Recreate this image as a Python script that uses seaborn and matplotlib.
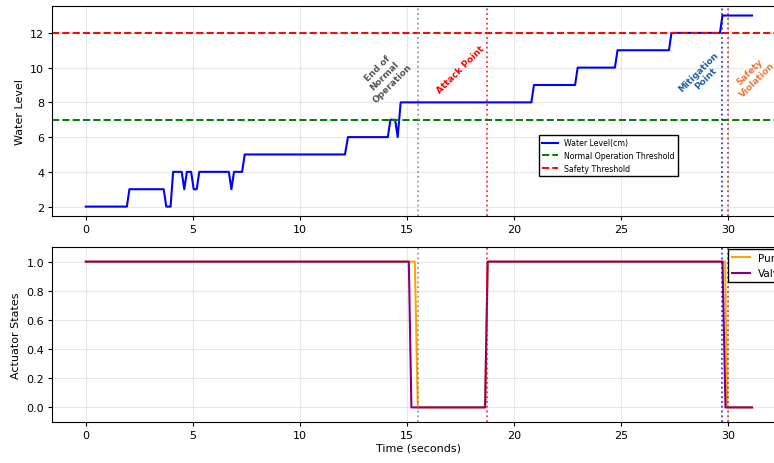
import matplotlib
matplotlib.use("Agg")
import matplotlib.pyplot as plt
import seaborn as sns
import pandas as pd

# water level vertices
water_t = [0, 1.92, 2.04, 3.64, 3.76, 3.96, 4.08, 4.48, 4.6, 4.72, 4.92, 5.04, 5.18, 5.3,
           6.68, 6.8, 6.92, 7.3, 7.42, 12.1, 12.24, 14.1, 14.22, 14.44, 14.56, 14.7,
           20.8, 20.92, 22.84, 22.96, 24.7, 24.82, 27.22, 27.34, 29.6, 29.72, 31.1]
water_lvl = [2, 2, 3, 3, 2, 2, 4, 4, 3, 4, 4, 3, 3, 4,
             4, 3, 4, 4, 5, 5, 6, 6, 7, 7, 6, 8,
             8, 9, 9, 10, 10, 11, 11, 12, 12, 13, 13]

pump_t = [0, 15.36, 15.5, 18.64, 18.76, 29.84, 29.94, 31.1]
pump_state = [1, 1, 0, 0, 1, 1, 0, 0]
valve_t = [0, 15.08, 15.2, 18.64, 18.76, 29.72, 29.86, 31.1]
valve_state = [1, 1, 0, 0, 1, 1, 0, 0]

normal_thr = 7
safety_thr = 12

event_t = [15.5, 18.75, 29.72, 30.0]
event_col = ["gray", "red", "blue", "firebrick"]
event_lbl = ["End of\nNormal\nOperation", "Attack Point", "Mitigation\nPoint", "Safety\nViolation"]
event_txt_col = ["#555555", "red", "#1f5f9f", "#ee7733"]
event_txt_xy = [(13.95, 9.55), (17.51, 9.92), (28.75, 9.6), (31.18, 9.57)]

df_w = pd.DataFrame({"t": water_t, "lvl": water_lvl})
df_p = pd.DataFrame({"t": pump_t, "s": pump_state})
df_v = pd.DataFrame({"t": valve_t, "s": valve_state})

plt.rcParams["font.size"] = 8
plt.rcParams["xtick.major.size"] = 2.9
plt.rcParams["ytick.major.size"] = 2.9
plt.rcParams["xtick.major.pad"] = 3
plt.rcParams["ytick.major.pad"] = 3

fig = plt.figure(figsize=(7.74, 4.64), dpi=100)
ax1 = fig.add_axes([0.0677, 0.532, 0.947, 0.453])
ax2 = fig.add_axes([0.0677, 0.0884, 0.947, 0.377])

sns.lineplot(data=df_w, x="t", y="lvl", ax=ax1, color="blue", lw=1.5,
             label="Water Level(cm)", estimator=None, sort=False)
ax1.axhline(normal_thr, color="green", ls="--", lw=1.4, label="Normal Operation Threshold")
ax1.axhline(safety_thr, color="red", ls="--", lw=1.4, label="Safety Threshold")

sns.lineplot(data=df_p, x="t", y="s", ax=ax2, color="orange", lw=1.5,
             label="Pump", estimator=None, sort=False)
sns.lineplot(data=df_v, x="t", y="s", ax=ax2, color="purple", lw=1.5,
             label="Valve", estimator=None, sort=False)

for ax in (ax1, ax2):
    for t, c in zip(event_t, event_col):
        ax.axvline(t, color=c, ls=":", lw=1.3, alpha=0.8)
    ax.grid(True, alpha=0.3)
    ax.set_xlim(-1.555, 32.655)

for lbl, c, (x, y) in zip(event_lbl, event_txt_col, event_txt_xy):
    ax1.text(x, y, lbl, rotation=45, color=c, fontsize=6.5, fontweight="bold",
             ha="center", va="center", multialignment="center")

ax1.set_ylim(1.45, 13.55)
ax1.set_xlabel("")
ax1.set_ylabel("Water Level")
ax1.legend(loc="lower left", bbox_to_anchor=(0.664, 0.19), borderaxespad=0, fontsize=5.6,
           fancybox=False, edgecolor="black", framealpha=1)

ax2.set_ylim(-0.1, 1.1)
ax2.set_yticks([0.0, 0.2, 0.4, 0.6, 0.8, 1.0])
ax2.set_xlabel("Time (seconds)", labelpad=2)
ax2.set_ylabel("Actuator States")
ax2.legend(loc="upper left", bbox_to_anchor=(0.9217, 0.99), borderaxespad=0, fontsize=7.5,
           handlelength=1.7, fancybox=False, edgecolor="black", framealpha=1)

fig.savefig("out.png", dpi=100)
